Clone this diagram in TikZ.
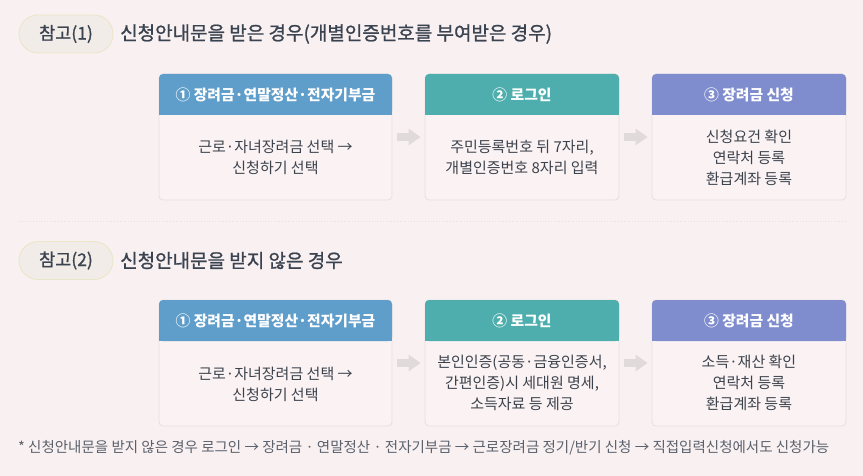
\documentclass[tikz,border=0pt]{standalone}
\usepackage{fontspec}
\setmainfont{Noto Sans CJK KR}
\newfontfamily\krsemi[FakeBold=1.0]{Noto Sans CJK KR}
\usetikzlibrary{arrows.meta}
\definecolor{bgcol}{HTML}{F9F0F1}
\definecolor{pillfill}{HTML}{F2ECE8}
\definecolor{pillline}{HTML}{E9E5C6}
\definecolor{darktxt}{HTML}{3A4350}
\definecolor{bodytxt}{HTML}{3C424C}
\definecolor{hone}{HTML}{5F9DCA}
\definecolor{htwo}{HTML}{4DAEAD}
\definecolor{hthree}{HTML}{7F8DCE}
\definecolor{cardfill}{HTML}{FAF2F3}
\definecolor{cardline}{HTML}{E6DFE0}
\definecolor{arrowcol}{HTML}{E0DADB}
\definecolor{notetxt}{HTML}{5A616C}
\tikzset{
  pill/.style={draw=pillline, line width=0.8pt, fill=pillfill, rounded corners=19pt,
    minimum width=94pt, minimum height=38pt, inner sep=0pt,
    font=\krsemi\fontsize{17.5}{20}\selectfont, text=darktxt},
  title/.style={anchor=west, inner sep=0pt, font=\krsemi\fontsize{19}{22}\selectfont, text=darktxt},
  card/.style={draw=cardline, line width=0.8pt, fill=cardfill, rounded corners=4pt,
    minimum width=233pt, inner sep=0pt},
  head/.style={rounded corners=4pt, minimum height=41pt, inner sep=0pt,
    font=\bfseries\fontsize{14.8}{16}\selectfont, text=white},
  bodytext/.style={align=center, inner sep=0pt, font=\fontsize{15}{21}\selectfont, text=bodytxt},
  blockarrow/.style={draw=arrowcol, line width=8pt, shorten <=5pt, shorten >=4pt,
    -{Triangle[length=12pt,width=16pt]}},
  note/.style={anchor=west, inner sep=0pt, font=\fontsize{14.5}{16}\selectfont, text=notetxt}
}
\begin{document}
\begin{tikzpicture}[x=1pt,y=-1pt]
\useasboundingbox (0,0) rectangle (863,476);
\fill[bgcol] (0,0) rectangle (863,476);

% ---------- section 1 ----------
\node[pill] (p1) at (66,34) {참고(1)};
\node[title] (t1) at (120,34) {신청안내문을 받은 경우(개별인증번호를 부여받은 경우)};

\node[card, minimum height=126pt] (c11) at (275.5,137) {};
\node[card, minimum width=194pt, minimum height=126pt] (c12) at (522,137) {};
\node[card, minimum width=194pt, minimum height=126pt] (c13) at (749,137) {};

\node[head, fill=hone, minimum width=233pt] (h11) at (275.5,94.5) {① 장려금·연말정산·전자기부금};
\node[head, fill=htwo, minimum width=194pt] (h12) at (522,94.5) {② 로그인};
\node[head, fill=hthree, minimum width=194pt] (h13) at (749,94.5) {③ 장려금 신청};
\foreach \h/\c in {h11/hone,h12/htwo,h13/hthree}{
  \fill[\c] (\h.south west) rectangle ([yshift=6pt]\h.south east);
}

\node[bodytext] (b11) at (275.5,157.5) {근로·자녀장려금 선택 →\\신청하기 선택};
\node[bodytext] (b12) at (522,157.5) {주민등록번호 뒤 7자리,\\개별인증번호 8자리 입력};
\node[bodytext] (b13) at (749,157.5) {신청요건 확인\\연락처 등록\\환급계좌 등록};

\draw[blockarrow] (c11.east) -- (c12.west);
\draw[blockarrow] (c12.east) -- (c13.west);

% divider
\draw[cardline, line width=0.8pt, dotted] (19,221) -- (846,221);

% ---------- section 2 ----------
\node[pill] (p2) at (66,260.5) {참고(2)};
\node[title] (t2) at (120,260.5) {신청안내문을 받지 않은 경우};

\node[card, minimum height=126pt] (c21) at (275.5,363) {};
\node[card, minimum width=194pt, minimum height=126pt] (c22) at (522,363) {};
\node[card, minimum width=194pt, minimum height=126pt] (c23) at (749,363) {};

\node[head, fill=hone, minimum width=233pt] (h21) at (275.5,320.5) {① 장려금·연말정산·전자기부금};
\node[head, fill=htwo, minimum width=194pt] (h22) at (522,320.5) {② 로그인};
\node[head, fill=hthree, minimum width=194pt] (h23) at (749,320.5) {③ 장려금 신청};
\foreach \h/\c in {h21/hone,h22/htwo,h23/hthree}{
  \fill[\c] (\h.south west) rectangle ([yshift=6pt]\h.south east);
}

\node[bodytext] (b21) at (275.5,384) {근로·자녀장려금 선택 →\\신청하기 선택};
\node[bodytext] (b22) at (522,383) {본인인증(공동·금융인증서,\\간편인증)시 세대원 명세,\\소득자료 등 제공};
\node[bodytext] (b23) at (749,383) {소득·재산 확인\\연락처 등록\\환급계좌 등록};

\draw[blockarrow] (c21.east) -- (c22.west);
\draw[blockarrow] (c22.east) -- (c23.west);

% footnote
\node[note] (n1) at (18,448) {* 신청안내문을 받지 않은 경우 로그인 → 장려금 · 연말정산 · 전자기부금 → 근로장려금 정기/반기 신청 → 직접입력신청에서도 신청가능};
\end{tikzpicture}
\end{document}
